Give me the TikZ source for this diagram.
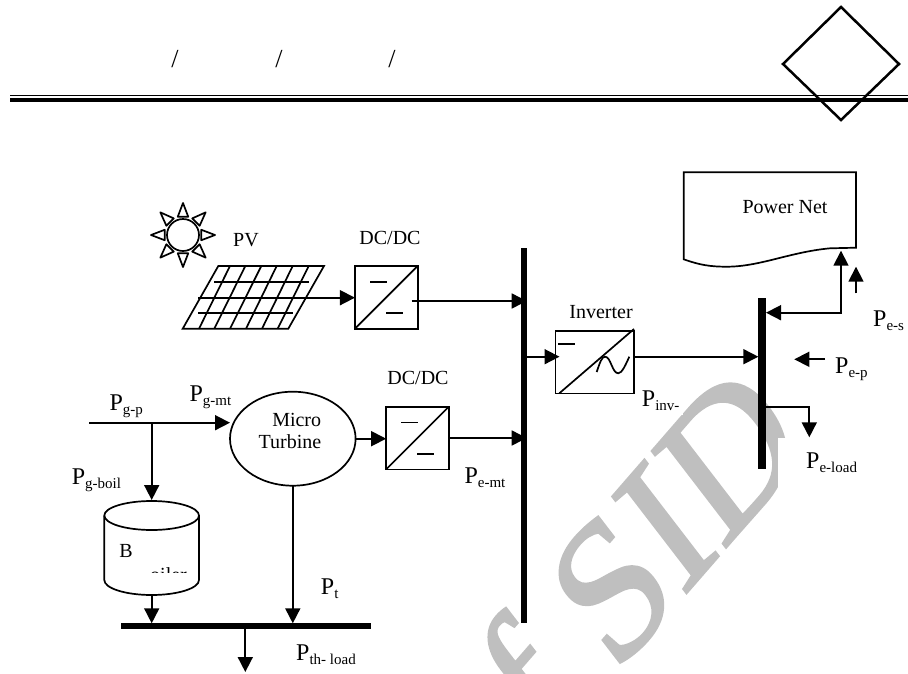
\documentclass[tikz,border=0pt]{standalone}
\usepackage{fontspec}
\setmainfont{Liberation Serif}
\newfontfamily\markfont[FakeBold=1.5]{Liberation Serif}
\usetikzlibrary{arrows.meta,shapes.geometric}
\tikzset{>={Triangle[length=15pt,width=15pt]}}
\tikzset{
	wire/.style={line width=1.7pt},
	busbar/.style={fill=black,inner sep=0pt,outer sep=0pt},
	convbox/.style={draw,line width=1.7pt,inner sep=0pt,outer sep=0pt,minimum width=62.7pt,minimum height=62.7pt},
	txt/.style={font=\fontsize{20}{22}\selectfont,align=center,inner sep=0pt},
	plabel/.style={anchor=base west,inner sep=0pt}
}
\newcommand{\Pw}[1]{{\fontsize{24}{24}\selectfont P}\raisebox{-4pt}{\fontsize{15}{15}\selectfont #1}}

\begin{document}
\begin{tikzpicture}[x=1pt,y=-1pt]
	\useasboundingbox (0,0) rectangle (908,673);
	% watermark
	\begin{scope}
		\clip (0,0) rectangle (908,673);
		\begin{scope}[cm={.656,.755,-.61,.794,(543.8,757)},transform shape]
			\node[anchor=base west,inner sep=0pt,text=black!25,font=\markfont\fontsize{185}{185}\selectfont] (mark) at (0,0) {f SID};
		\end{scope}
	\end{scope}
	\fill[white] (787,380) rectangle (908,438);
	\fill[white] (778,438) rectangle (908,500);
	\fill[white] (636,385) rectangle (683,415);

	% header
	\node[txt,font=\fontsize{26}{28}\selectfont] (slasha) at (175,59) {/};
	\node[txt,font=\fontsize{26}{28}\selectfont] (slashb) at (279,59) {/};
	\node[txt,font=\fontsize{26}{28}\selectfont] (slashc) at (392,59) {/};
	\draw[line width=1pt] (10,95.7) -- (908,95.7);
	\draw[line width=4.5pt] (10,100) -- (908,100);
	\draw[line width=2.5pt] (841,7) -- (899,64) -- (841,120) -- (783,64) -- cycle;

	% sun
	\node[circle,draw,line width=1.7pt,minimum size=32pt,inner sep=0pt] (sun) at (183,235) {};
	\foreach \a in {0,45,...,315}
		\draw[wire,line join=round] ([shift={(\a:32)}]sun.center) -- ([shift={(\a+16:19)}]sun.center) -- ([shift={(\a-16:19)}]sun.center) -- cycle;

	% PV panel
	\draw[wire] (218.3,266) -- (324,266) -- (288.3,328.7) -- (182.7,328.7) -- cycle;
	\foreach \t/\b in {230/199,245.3/214.3,261.3/230,276.7/246,292.7/262,308.7/277.7}
		\draw[wire] (\t,266) -- (\b,328.7);
	\draw[wire] (214,281.7) -- (309,281.7);
	\draw[wire] (198.3,313.3) -- (293.3,313.3);
	\node[txt] (pvlabel) at (246,240) {PV};
	\coordinate (pvout) at (198.3,297.7);

	% converters
	\node[convbox] (dca) at (386.3,297.3) {};
	\draw[wire] (dca.south west) -- (dca.north east);
	\draw[wire] (370,281.7) -- (387.3,281.7);
	\draw[wire] (386,313.3) -- (402.7,313.3);
	\node[txt] (dcalabel) at (390,237.7) {DC/DC};
	\coordinate (dcaout) at (411.7,301);
	\node[convbox] (dcb) at (417.5,438) {};
	\draw[wire] (dcb.south west) -- (dcb.north east);
	\draw[wire] (401,422.4) -- (418.4,422.4);
	\draw[wire] (417,454) -- (433.8,454);
	\node[txt] (dcblabel) at (418,378) {DC/DC};
	\node[convbox,minimum width=78.7pt] (inv) at (594.7,362.2) {};
	\draw[wire] (559.3,393.3) -- (634,329);
	\draw[wire] (558,344) -- (575,344);
	\draw[wire] (596.7,372) .. controls (600,362) and (602,356.7) .. (605,356.7) .. controls (611,356.7) and (612,373.3) .. (618.3,373.3) .. controls (622,373.3) and (626,364) .. (629.3,356.7);
	\node[txt] (invlabel) at (601,311.7) {Inverter};

	% bus bars
	\node[busbar,minimum width=6pt,minimum height=375pt] (busa) at (523.7,435.5) {};
	\node[busbar,minimum width=7.7pt,minimum height=171.6pt] (busb) at (762.2,383.5) {};
	\node[busbar,minimum width=250pt,minimum height=6pt] (busc) at (245.7,626.3) {};

	% power net
	\draw[wire] (683.7,172.3) -- (856,172.3) -- (856,247.7) -- (830,248.3) .. controls (790,252) and (760,266.7) .. (726.7,266.7) .. controls (710,266.7) and (700,265) .. (683.7,259.3) -- cycle;
	\node[txt] (net) at (785,207) {Power Net};

	% micro turbine and boiler
	\node[ellipse,draw,line width=1.7pt,inner sep=0pt,outer sep=0pt,minimum width=125.6pt,minimum height=94pt] (mt) at (292.8,438.7) {};
	\node[txt] (mtlabela) at (296.7,420) {Micro};
	\node[txt] (mtlabelb) at (290,441.7) {Turbine};
	\draw[wire] (104.3,515.5) arc[start angle=180,end angle=-180,x radius=47.35,y radius=14.5];
	\draw[wire] (104.3,515.5) -- (104.3,580) arc[start angle=180,end angle=0,x radius=47.35,y radius=15] -- (199,515.5);
	\fill[white] (152,532) rectangle (198.2,572);
	\node[txt] (boilera) at (126,550.7) {B};
	\begin{scope}
		\clip (150,560) rectangle (199,572);
		\node[txt,anchor=base west] (boilerb) at (150,581) {oiler};
	\end{scope}
	\coordinate (boilertop) at (151.7,500);
	\coordinate (boilerbot) at (151.7,595);

	% free ends
	\coordinate (gasin) at (89.3,422.7);
	\coordinate (gasjoin) at (151.7,422.7);
	\coordinate (gasout) at (230,422.7);
	\coordinate (invin) at (559.5,356.7);
	\coordinate (netin) at (841,250.7);
	\coordinate (netbus) at (766,312.7);
	\coordinate (loadbus) at (766,407.3);
	\coordinate (loadend) at (809.3,437.3);
	\coordinate (thload) at (245.3,672);
	\coordinate (sella) at (856,293.3);
	\coordinate (sellb) at (856,266.7);
	\coordinate (peepa) at (825,359.3);
	\coordinate (peepb) at (794.3,359.3);

	% connectors
	\draw[wire,->] (pvout) -- (pvout -| dca.west);
	\draw[wire,->] (dcaout) -- (dcaout -| busa.east);
	\draw[wire,->] (mt.east) -- (mt.east -| dcb.west);
	\draw[wire,->] (dcb.east) -- (dcb.east -| busa.east);
	\draw[wire,->] (invin -| busa.east) -- (invin);
	\draw[wire,->] (inv.east |- invin) -- (invin -| busb.west);
	\draw[wire,<->] (netbus) -| (netin);
	\draw[wire,->] (loadbus) -| (loadend);
	\draw[wire,->] (sella) -- (sellb);
	\draw[wire,->] (peepa) -- (peepb);
	\draw[wire,->] (gasin) -- (gasout);
	\draw[wire,->] (gasjoin) -- (boilertop);
	\draw[wire,->] (boilerbot) -- (boilerbot |- busc.north);
	\draw[wire,->] (mt.south) -- (mt.south |- busc.north);
	\draw[wire,->] (thload |- busc.south) -- (thload);

	% labels
	\node[plabel] (pgp) at (109.3,410.7) {\Pw{g-p}};
	\node[plabel] (pgmt) at (189.3,401) {\Pw{g-mt}};
	\node[plabel] (pgboil) at (71.7,484) {\Pw{g-boil}};
	\node[plabel] (pt) at (320.7,594) {\Pw{t}};
	\node[plabel] (pthload) at (296,660) {\Pw{th- load}};
	\node[plabel] (pemt) at (464.3,483) {\Pw{e-mt}};
	\node[plabel] (pinv) at (641.7,406) {\Pw{inv-}};
	\node[plabel] (pes) at (873,326) {\Pw{e-s}};
	\node[plabel] (pep) at (835,373) {\Pw{e-p}};
	\node[plabel] (peload) at (806,468) {\Pw{e-load}};
\end{tikzpicture}
\end{document}
